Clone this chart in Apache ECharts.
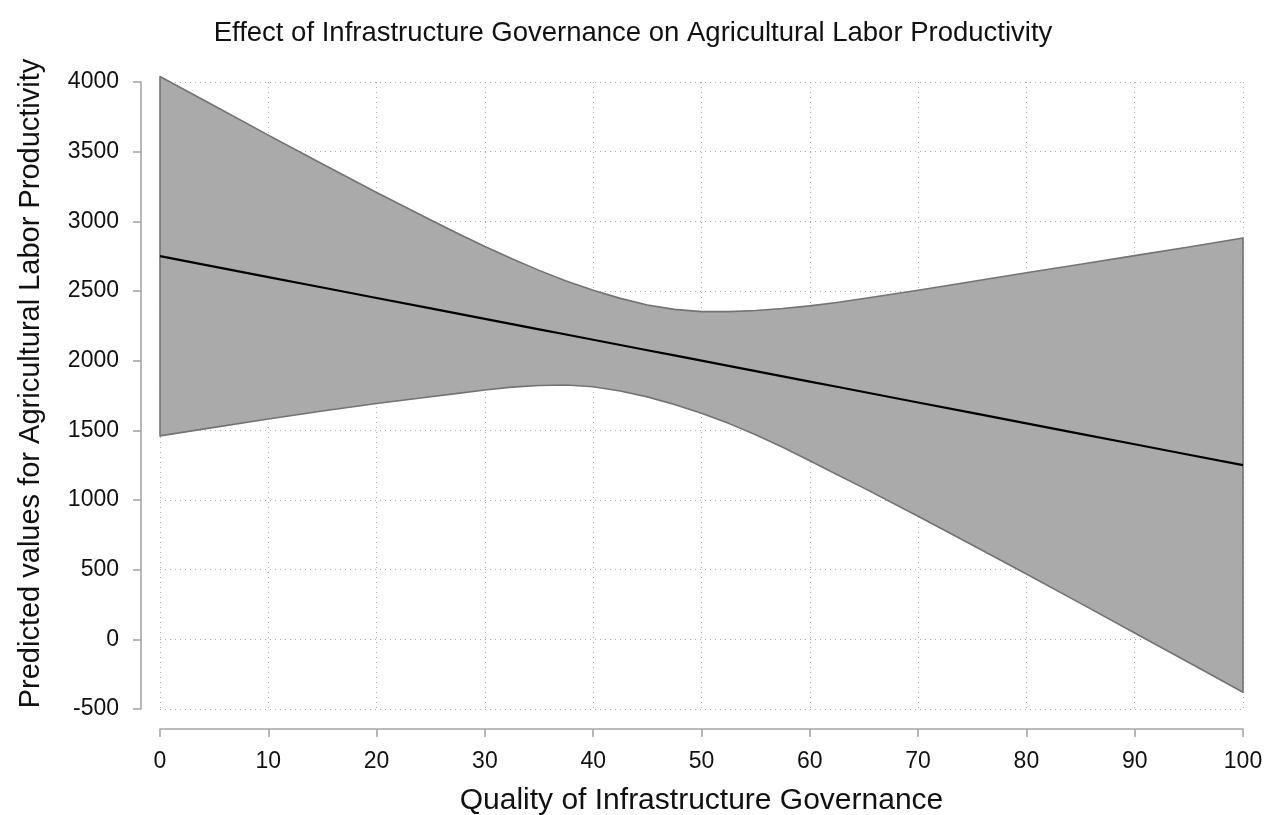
<!DOCTYPE html>
<html>
<head>
<meta charset="utf-8">
<title>Infrastructure Governance</title>
<script src="https://cdn.jsdelivr.net/npm/echarts@6/dist/echarts.min.js"></script>
<style>
    html, body { margin: 0; padding: 0; background: #fff; }
    #main { width: 1266px; height: 815px; }
</style>
</head>
<body>
<div id="main"></div>
<script>
// values; finer steps where the band bends
var xValues = [0, 5, 10, 15, 20, 25, 27.5, 30, 32.5, 35, 37.5, 40, 42.5, 45, 47.5, 50, 52.5, 55, 57.5, 60, 62.5, 65, 70, 75, 80, 85, 90, 95, 100];
var predicted = [2750, 2675, 2600, 2525, 2450, 2375, 2337.5, 2300, 2262.5, 2225, 2187.5, 2150, 2112.5, 2075, 2037.5, 2000, 1962.5, 1925, 1887.5, 1850, 1812.5, 1775, 1700, 1625, 1550, 1475, 1400, 1325, 1250];
var upperCI = [4040, 3829, 3619, 3411, 3207, 3009, 2913, 2820, 2731, 2648, 2572, 2505, 2447, 2400, 2368, 2352, 2352, 2360, 2374, 2393, 2418, 2446, 2505, 2568, 2631, 2692, 2754, 2816, 2880];
var lowerCI = [1460, 1521, 1581, 1639, 1693, 1741, 1765, 1790, 1810, 1822, 1825, 1813, 1782, 1740, 1685, 1622, 1550, 1468, 1378, 1282, 1183, 1085, 883, 677, 469, 258, 46, -166, -380];
var xTicks = [0, 100, 10];
var yTicks = [-500, 4000, 500];

var chartBox = new function () {
    var chart = echarts.init(document.getElementById('main'));
    var fontName = '"Liberation Sans", Arial, Helvetica, sans-serif';
    var axisGray = '#a6a6a6';

    function pairs(ys) {
        var out = [];
        for (var i = 0; i < xValues.length; i++) {
            out.push([xValues[i], ys[i]]);
        }
        return out;
    }

    function bandData() {
        var out = [];
        for (var i = 0; i < xValues.length; i++) {
            out.push([xValues[i], lowerCI[i], upperCI[i]]);
        }
        return out;
    }

    // whole confidence band as one polygon, drawn once
    function renderBand(params, api) {
        if (params.dataIndexInside !== 0) {
            return;
        }
        var pts = [];
        var i;
        for (i = 0; i < xValues.length; i++) {
            pts.push(api.coord([xValues[i], upperCI[i]]));
        }
        for (i = xValues.length - 1; i >= 0; i--) {
            pts.push(api.coord([xValues[i], lowerCI[i]]));
        }
        return {
            type: 'polygon',
            shape: { points: pts },
            style: { fill: '#aaaaaa', stroke: '#737373', lineWidth: 1.6, lineJoin: 'round' }
        };
    }

    function gridLine() {
        return { show: true, lineStyle: { color: '#ababab', width: 1, type: [1, 4] } };
    }

    function plainNumber(v) {
        return String(v);
    }

    var option = {
        animation: false,
        backgroundColor: '#fff',
        title: {
            text: 'Effect of Infrastructure Governance on Agricultural Labor Productivity',
            left: 'center',
            top: 14,
            textStyle: { fontFamily: fontName, fontSize: 27.5, fontWeight: 'normal', color: '#111' }
        },
        grid: { left: 160, right: 23, top: 82, bottom: 106, containLabel: false, outerBoundsMode: 'none' },
        xAxis: {
            type: 'value',
            min: xTicks[0], max: xTicks[1], interval: xTicks[2],
            offset: 20,
            name: 'Quality of Infrastructure Governance',
            nameLocation: 'middle',
            nameGap: 57,
            nameTextStyle: { fontFamily: fontName, fontSize: 30, color: '#111' },
            axisLine: { show: true, onZero: false, lineStyle: { color: axisGray, width: 1.6 } },
            axisTick: { show: true, length: 8, lineStyle: { color: axisGray, width: 1.6 } },
            axisLabel: { fontFamily: fontName, fontSize: 23, color: '#111', margin: 21, formatter: plainNumber },
            splitLine: gridLine()
        },
        yAxis: {
            type: 'value',
            min: yTicks[0], max: yTicks[1], interval: yTicks[2],
            offset: 19,
            name: 'Predicted values for Agricultural Labor Productivity',
            nameLocation: 'middle',
            nameGap: 96,
            nameTextStyle: { fontFamily: fontName, fontSize: 29, color: '#111', padding: [0, 0, 0, 24] },
            axisLine: { show: true, onZero: false, lineStyle: { color: axisGray, width: 1.6 } },
            axisTick: { show: true, length: 8, lineStyle: { color: axisGray, width: 1.6 } },
            axisLabel: { fontFamily: fontName, fontSize: 23, color: '#111', margin: 22, formatter: plainNumber },
            splitLine: gridLine()
        },
        series: [
            {
                type: 'custom',
                data: bandData(),
                renderItem: renderBand,
                encode: { x: 0, y: [1, 2] },
                silent: true
            },
            {
                type: 'line', data: pairs(predicted), symbol: 'none',
                lineStyle: { color: '#000', width: 2.2 }
            }
        ]
    };
    chart.setOption(option);

    return { chart: chart };
};
</script>
</body>
</html>
